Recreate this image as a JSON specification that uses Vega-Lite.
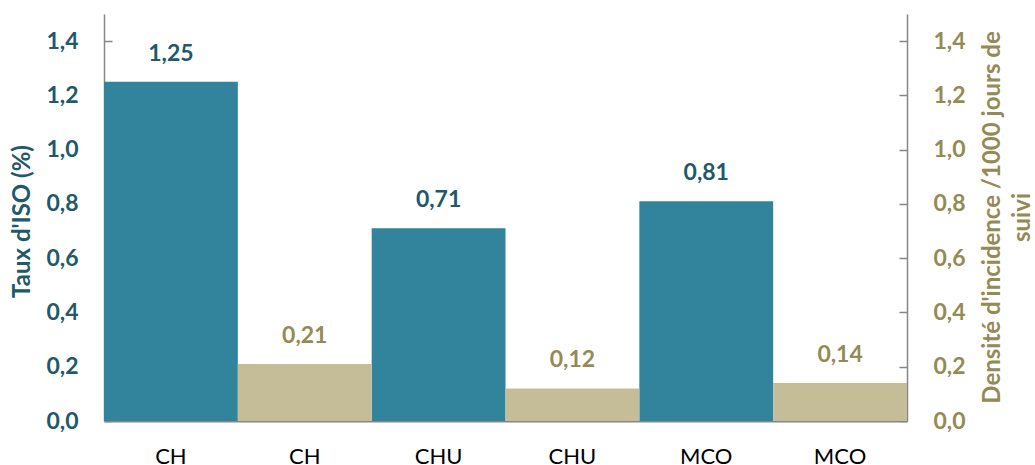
{
  "$schema": "https://vega.github.io/schema/vega-lite/v6.json",
  "width": 803,
  "height": 407,
  "autosize": {"type": "none"},
  "padding": {"left": 104, "top": 14, "right": 128, "bottom": 44},
  "background": "white",
  "config": {
    "view": {"stroke": null},
    "font": "Lato",
    "locale": {"number": {"decimal": ",", "thousands": " ", "grouping": [3], "currency": ["", " €"]}}
  },
  "data": {
    "values": [
      {"pos": "CH_ISO", "serie": "ISO", "value": 1.25},
      {"pos": "CH_DI", "serie": "DI", "value": 0.21},
      {"pos": "CHU_ISO", "serie": "ISO", "value": 0.71},
      {"pos": "CHU_DI", "serie": "DI", "value": 0.12},
      {"pos": "MCO_ISO", "serie": "ISO", "value": 0.81},
      {"pos": "MCO_DI", "serie": "DI", "value": 0.14}
    ]
  },
  "encoding": {
    "x": {
      "field": "pos",
      "type": "nominal",
      "scale": {"domain": ["CH_ISO", "CH_DI", "CHU_ISO", "CHU_DI", "MCO_ISO", "MCO_DI"], "paddingInner": 0, "paddingOuter": 0},
      "axis": {
        "title": null,
        "labelAngle": 0,
        "labelExpr": "split(datum.value, '_')[0]",
        "labelFont": "Lato",
        "labelFontSize": 22,
        "labelColor": "#000000",
        "labelPadding": 25,
        "ticks": false,
        "domainColor": "#868686",
        "domainWidth": 2,
        "grid": false
      }
    }
  },
  "layer": [
    {
      "transform": [{"filter": "datum.serie === 'ISO'"}],
      "encoding": {
        "y": {
          "field": "value",
          "type": "quantitative",
          "scale": {"domain": [0, 1.5], "nice": false},
          "axis": {
            "orient": "left",
            "values": [0, 0.2, 0.4, 0.6, 0.8, 1.0, 1.2, 1.4],
            "format": ".1f",
            "grid": false,
            "title": "Taux d'ISO (%)",
            "titleFont": "Lato",
            "titleFontSize": 24,
            "titleFontWeight": "bold",
            "titleColor": "#215968",
            "titleX": -82,
            "titleY": 207,
            "titleBaseline": "middle",
            "labelFont": "Lato",
            "labelFontSize": 23,
            "labelFontWeight": "bold",
            "labelColor": "#215968",
            "labelPadding": 34,
            "tickSize": -8,
            "tickColor": "#868686",
            "tickWidth": 1.5,
            "domainColor": "#868686",
            "domainWidth": 1.5
          }
        }
      },
      "layer": [
        {"mark": {"type": "bar", "color": "#31849B"}},
        {
          "mark": {"type": "text", "dy": -28, "font": "Lato", "fontSize": 23, "fontWeight": "bold", "color": "#215968"},
          "encoding": {"text": {"field": "value", "type": "quantitative", "format": ".2f"}}
        }
      ]
    },
    {
      "transform": [{"filter": "datum.serie === 'DI'"}],
      "encoding": {
        "y": {
          "field": "value",
          "type": "quantitative",
          "scale": {"domain": [0, 1.5], "nice": false},
          "axis": {
            "orient": "right",
            "values": [0, 0.2, 0.4, 0.6, 0.8, 1.0, 1.2, 1.4],
            "format": ".1f",
            "grid": false,
            "title": ["Densité d'incidence /1000 jours de", "suivi"],
            "titleFont": "Lato",
            "titleFontSize": 24,
            "titleFontWeight": "bold",
            "titleColor": "#948A54",
            "titleAngle": 270,
            "titleBaseline": "top",
            "titleAlign": "center",
            "titleLineHeight": 30,
            "titleX": 73,
            "titleY": 203,
            "labelFont": "Lato",
            "labelFontSize": 23,
            "labelFontWeight": "bold",
            "labelColor": "#948A54",
            "labelPadding": 34,
            "tickSize": -8,
            "tickColor": "#868686",
            "tickWidth": 1.5,
            "domainColor": "#868686",
            "domainWidth": 1.5
          }
        }
      },
      "layer": [
        {"mark": {"type": "bar", "color": "#C4BD97"}},
        {
          "mark": {"type": "text", "dy": -28, "font": "Lato", "fontSize": 23, "fontWeight": "bold", "color": "#948A54"},
          "encoding": {"text": {"field": "value", "type": "quantitative", "format": ".2f"}}
        }
      ]
    }
  ],
  "resolve": {"scale": {"y": "independent"}}
}
